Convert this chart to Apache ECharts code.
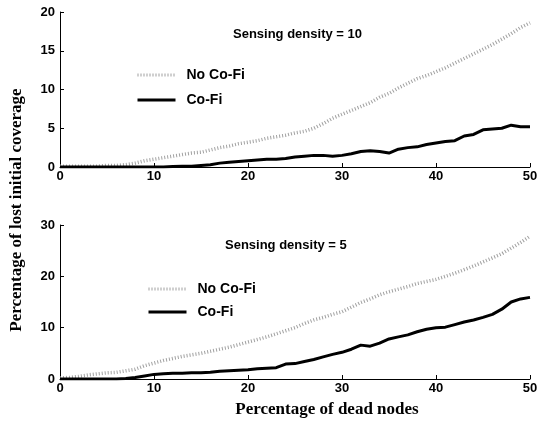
<!DOCTYPE html>
<html>
<head>
<meta charset="utf-8">
<script src="https://cdn.jsdelivr.net/npm/echarts@6/dist/echarts.min.js"></script>
<style>
  html, body { margin: 0; padding: 0; background: #fff; }
  #chart { width: 549px; height: 422px; }
</style>
</head>
<body>
<div id="chart"></div>
<script>
// dead nodes (%) - x positions of the readings
const deadNodes = [0, 1, 2, 3, 4, 5, 6, 7, 8, 9, 10, 11, 12, 13, 14, 15, 16, 17, 18, 19, 20,
  21, 22, 23, 24, 25, 26, 27, 28, 29, 30, 31, 32, 33, 34, 35, 36, 37, 38, 39, 40,
  41, 42, 43, 44, 45, 46, 47, 48, 49, 50]

// sensing density = 10
const noCoFi10 = [0.1, 0.1, 0.1, 0.1, 0.1, 0.2, 0.2, 0.3, 0.5, 0.8, 1.0, 1.2, 1.4, 1.6, 1.8, 1.9, 2.2, 2.5, 2.7, 3.0, 3.2,
  3.4, 3.7, 3.9, 4.1, 4.4, 4.6, 5.0, 5.6, 6.3, 6.8, 7.3, 7.8, 8.3, 9.0, 9.5, 10.2, 10.8, 11.4, 11.8, 12.3,
  12.8, 13.4, 14.0, 14.6, 15.2, 15.8, 16.5, 17.2, 18.0, 18.6]
const coFi10 = [0, 0, 0, 0, 0, 0, 0, 0, 0, 0, 0, 0, 0.05, 0.1, 0.1, 0.2, 0.3, 0.5, 0.6, 0.7, 0.8,
  0.9, 1.0, 1.0, 1.1, 1.3, 1.4, 1.5, 1.5, 1.4, 1.5, 1.7, 2.0, 2.1, 2.0, 1.8, 2.3, 2.5, 2.6, 2.9, 3.1,
  3.3, 3.4, 4.0, 4.2, 4.8, 4.9, 5.0, 5.4, 5.2, 5.2]

// sensing density = 5
const noCoFi5 = [0.2, 0.3, 0.5, 0.8, 1.0, 1.2, 1.3, 1.6, 1.9, 2.6, 3.1, 3.6, 4.0, 4.4, 4.7, 5.0, 5.4, 5.8, 6.2, 6.7, 7.2,
  7.7, 8.2, 8.8, 9.4, 10.0, 10.8, 11.5, 12.0, 12.6, 13.1, 14.0, 14.9, 15.6, 16.4, 17.0, 17.5, 18.0, 18.6, 19.0, 19.4,
  20.0, 20.6, 21.3, 22.0, 22.8, 23.6, 24.4, 25.5, 26.6, 27.8]
const coFi5 = [0, 0, 0, 0, 0, 0, 0, 0.1, 0.3, 0.6, 0.9, 1.0, 1.1, 1.1, 1.2, 1.2, 1.3, 1.5, 1.6, 1.7, 1.8,
  2.0, 2.1, 2.2, 2.9, 3.0, 3.4, 3.8, 4.3, 4.8, 5.2, 5.8, 6.6, 6.4, 7.0, 7.8, 8.2, 8.6, 9.2, 9.7, 10.0,
  10.1, 10.6, 11.1, 11.5, 12.0, 12.6, 13.6, 15.0, 15.6, 15.9]

const xTicks = [0, 50, 10]      // min, max, interval
const yTicksTop = [0, 20, 5]
const yTicksBottom = [0, 30, 10]

const pair = (ys) => deadNodes.map((x, i) => [x, ys[i]])

const tickFont = { color: '#000', fontFamily: 'Liberation Sans, Arial', fontWeight: 'bold', fontSize: 13 }

function xAxis(gridIndex) {
  return {
    type: 'value', gridIndex,
    min: xTicks[0], max: xTicks[1], interval: xTicks[2],
    axisLine: { lineStyle: { color: '#000', width: 1 } },
    axisTick: { inside: true, length: 4, lineStyle: { color: '#000' } },
    axisLabel: Object.assign({ margin: 3 }, tickFont),
    splitLine: { show: false }
  }
}

function yAxis(gridIndex, t) {
  return {
    type: 'value', gridIndex,
    min: t[0], max: t[1], interval: t[2],
    axisLine: { show: true, lineStyle: { color: '#000', width: 1 } },
    axisTick: { show: true, inside: true, length: 4, lineStyle: { color: '#000' } },
    axisLabel: Object.assign({ margin: 5 }, tickFont),
    splitLine: { show: false }
  }
}

const dotted = { color: '#a0a0a0', width: 3.5, type: [1, 2] }
const solid = { color: '#000', width: 3 }

function line(name, data, idx, style) {
  return {
    name, type: 'line', data: pair(data),
    xAxisIndex: idx, yAxisIndex: idx,
    showSymbol: false, symbol: 'none',
    lineStyle: style, itemStyle: { color: style.color },
    animation: false
  }
}

const legendText = { color: '#000', fontFamily: 'Liberation Sans, Arial', fontWeight: 'bold', fontSize: 14, padding: [0, 0, 0, 6] }
// hide the round marker drawn on top of the legend line
const noMarker = { color: 'rgba(0,0,0,0)', borderColor: 'rgba(0,0,0,0)', borderWidth: 0 }

const chart = echarts.init(document.getElementById('chart'))
chart.setOption({
  backgroundColor: '#fff',
  grid: [
    { left: 60, right: 19, top: 12, height: 155 },
    { left: 60, right: 19, top: 225, height: 154 }
  ],
  xAxis: [xAxis(0), xAxis(1)],
  yAxis: [yAxis(0, yTicksTop), yAxis(1, yTicksBottom)],
  legend: [
    {
      orient: 'vertical', left: 131, top: 63, itemWidth: 38, itemHeight: 14, itemGap: 11,
      data: ['No Co-Fi', 'Co-Fi'], textStyle: legendText, itemStyle: noMarker,
      lineStyle: { width: 3 }, selectedMode: false
    },
    {
      orient: 'vertical', left: 142, top: 277, itemWidth: 38, itemHeight: 14, itemGap: 9,
      data: ['No Co-Fi', 'Co-Fi'], textStyle: legendText, itemStyle: noMarker,
      lineStyle: { width: 3 }, selectedMode: false
    }
  ],
  series: [
    line('No Co-Fi', noCoFi10, 0, dotted),
    line('Co-Fi', coFi10, 0, solid),
    line('No Co-Fi', noCoFi5, 1, dotted),
    line('Co-Fi', coFi5, 1, solid)
  ],
  graphic: [
    {
      type: 'text', left: 233, top: 28,
      style: { text: 'Sensing density = 10', fill: '#000', font: 'bold 13px "Liberation Sans", Arial' }
    },
    {
      type: 'text', left: 225, top: 239,
      style: { text: 'Sensing density = 5', fill: '#000', font: 'bold 13px "Liberation Sans", Arial' }
    },
    {
      type: 'text', x: 327, y: 410,
      style: { text: 'Percentage of dead nodes', fill: '#000', font: 'bold 17px "Liberation Serif", "Times New Roman"', align: 'center', verticalAlign: 'middle' }
    },
    {
      type: 'text', x: 17, y: 210, rotation: Math.PI / 2,
      style: { text: 'Percentage of lost initial coverage', fill: '#000', font: 'bold 17px "Liberation Serif", "Times New Roman"', align: 'center', verticalAlign: 'middle' }
    }
  ]
})
</script>
</body>
</html>
